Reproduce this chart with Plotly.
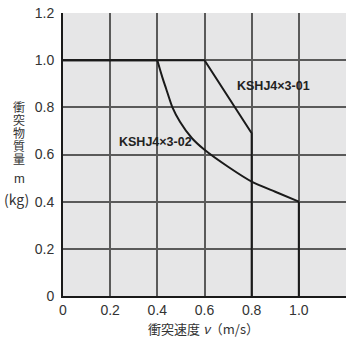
import plotly.graph_objects as go

# Series KSHJ4×3-01
v01 = [0.0, 0.6, 0.8, 0.8]
m01 = [1.0, 1.0, 0.69, 0.0]

# Series KSHJ4×3-02 (flat part, curve, drop)
v02_flat = [0.0, 0.4]
m02_flat = [1.0, 1.0]
v02_curve = [0.4, 0.41, 0.422, 0.437, 0.464, 0.496, 0.546, 0.6, 0.7, 0.8, 0.9, 1.0]
m02_curve = [1.0, 0.965, 0.925, 0.88, 0.80, 0.739, 0.67, 0.62, 0.548, 0.485, 0.442, 0.40]
v02_drop = [1.0, 1.0]
m02_drop = [0.40, 0.0]

x_ticks = [0, 0.2, 0.4, 0.6, 0.8, 1.0]
x_ticktext = ["0", "0.2", "0.4", "0.6", "0.8", "1.0"]
y_ticks = [0, 0.2, 0.4, 0.6, 0.8, 1.0, 1.2]
y_ticktext = ["0", "0.2", "0.4", "0.6", "0.8", "1.0", "1.2"]

y_title_chars = ["衝", "突", "物", "質", "量"]

FONT = "Liberation Sans, Arial, sans-serif"
CJK = "Noto Sans CJK JP, sans-serif"
LINE = "#1a1a1a"

fig = go.Figure()
fig.add_trace(go.Scatter(x=v01, y=m01, mode="lines", line=dict(color=LINE, width=2),
                         showlegend=False, cliponaxis=False))
fig.add_trace(go.Scatter(x=v02_flat, y=m02_flat, mode="lines", line=dict(color=LINE, width=2),
                         showlegend=False, cliponaxis=False))
fig.add_trace(go.Scatter(x=v02_curve, y=m02_curve, mode="lines",
                         line=dict(color=LINE, width=2, shape="spline", smoothing=0.6),
                         showlegend=False, cliponaxis=False))
fig.add_trace(go.Scatter(x=v02_drop, y=m02_drop, mode="lines", line=dict(color=LINE, width=2),
                         showlegend=False, cliponaxis=False))

fig.update_layout(
    width=346, height=338,
    margin=dict(l=63, r=0, t=13, b=42, autoexpand=False),
    paper_bgcolor="white",
    plot_bgcolor="#e6e6e7",
    font=dict(family=FONT, size=14, color="#333333"),
    xaxis=dict(range=[0, 1.2], tickvals=x_ticks + [1.2], ticktext=x_ticktext + [""],
               showgrid=True, gridcolor="#5a5a5a", gridwidth=1.5, automargin=False,
               zeroline=False, showline=True, linecolor="#1a1a1a", linewidth=2,
               ticks="", ticklen=0, tickfont=dict(size=14, color="#333333")),
    yaxis=dict(range=[0, 1.2], tickvals=y_ticks, ticktext=y_ticktext,
               showgrid=True, gridcolor="#5a5a5a", gridwidth=1.5, automargin=False,
               zeroline=False, showline=True, linecolor="#1a1a1a", linewidth=2,
               ticks="", ticklen=0, ticklabelstandoff=4,
               tickfont=dict(size=14, color="#333333")),
)

# series labels (pixel positions converted to data coords)
labels = [("<b>KSHJ4×3-01</b>", 273, 86), ("<b>KSHJ4×3-02</b>", 155, 142)]
for text, px, py in labels:
    fig.add_annotation(text=text, x=(px - 63) / 235.8, y=(296 - py) / 235.8,
                       xref="x", yref="y", showarrow=False, xanchor="center", yanchor="middle",
                       font=dict(family=FONT, size=12.5, color="#222222"))

def paper_x(px):
    return (px - 63) / (346 - 63)

def paper_y(py):
    return (296 - py) / (296 - 13)

common = dict(xref="paper", yref="paper", showarrow=False, xanchor="center", yanchor="middle",
              borderpad=0)
# y-axis title (vertical Japanese, one character per row)
for i, ch in enumerate(y_title_chars):
    fig.add_annotation(text=ch, x=paper_x(19), y=paper_y(106 + 13 * i),
                       font=dict(family=CJK, size=12, color="#333333"), **common)
fig.add_annotation(text="m", x=paper_x(19), y=paper_y(179),
                   font=dict(family=FONT, size=13, color="#333333"), **common)
fig.add_annotation(text="(kg)", x=paper_x(16), y=paper_y(199),
                   font=dict(family=CJK, size=14, color="#333333"), **common)
# x-axis title
fig.add_annotation(text="衝突速度 <i>ν</i>（m/s）", x=paper_x(203), y=paper_y(328),
                   font=dict(family=CJK, size=13, color="#333333"), **common)

fig.write_html("out.html", config={"displayModeBar": False},
               post_script="document.body.style.margin='0';document.body.style.padding='0';")
